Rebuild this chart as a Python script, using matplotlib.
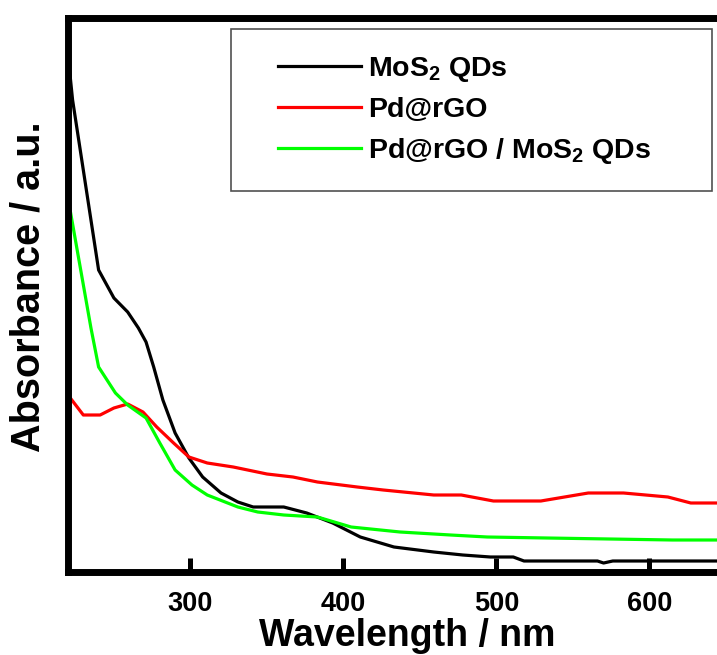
# -*- coding: utf-8 -*-
"""
UV-vis absorbance spectra: MoS2 QDs, Pd@rGO and Pd@rGO / MoS2 QDs
"""
import matplotlib
matplotlib.use("Agg")
import matplotlib.pyplot as plt
from matplotlib.patches import Rectangle

plt.rcParams['font.family'] = ['Liberation Sans', 'DejaVu Sans']
plt.rcParams['font.weight'] = 'bold'
plt.rcParams['mathtext.fontset'] = 'custom'
plt.rcParams['mathtext.rm'] = 'Liberation Sans:bold'
plt.rcParams['mathtext.bf'] = 'Liberation Sans:bold'
plt.rcParams['mathtext.it'] = 'Liberation Sans:bold'

# MoS2 QDs (black)
wl_mos2 = [221, 223, 240, 250, 259, 266, 271, 276, 282, 290, 299, 308, 320, 331,
           341, 361, 376, 393, 411, 433, 459, 478, 496, 511, 518, 566, 570, 576, 650]
abs_mos2 = [502, 472, 302, 274, 260, 244, 230, 205, 172, 139, 114, 95, 79, 70,
            65, 65, 59, 49, 35, 25, 20, 17, 15, 15, 11, 11, 9, 11, 11]

# Pd@rGO (red)
wl_pd = [220, 221, 230, 241, 250, 259, 269, 278, 289, 299, 311, 328, 350, 367,
         383, 409, 426, 459, 477, 498, 529, 560, 583, 612, 627, 650]
abs_pd = [182, 175, 157, 157, 164, 168, 160, 145, 129, 115, 109, 105, 98, 95,
          90, 85, 82, 77, 77, 71, 71, 79, 79, 75, 69, 69]

# Pd@rGO / MoS2 QDs (green)
wl_hyb = [220, 235, 240, 251, 259, 271, 280, 290, 301, 311, 331, 344, 361, 383,
          405, 437, 470, 494, 533, 615, 650]
abs_hyb = [374, 244, 205, 179, 167, 154, 129, 102, 87, 77, 65, 60, 57, 55,
           45, 40, 37, 35, 34, 32, 32]

labels = ['MoS$_2$ QDs', 'Pd@rGO', 'Pd@rGO / MoS$_2$ QDs']
xticks = [300, 400, 500, 600]

W, H = 717, 655
fig = plt.figure(figsize=(W / 100, H / 100), dpi=100)
# axes box in pixels: left 68, top 18, bottom 572; right edge runs off the figure
ax = fig.add_axes([68 / W, 1 - 572 / H, 658 / W, (572 - 18) / H])

l1, = ax.plot(wl_mos2, abs_mos2, color='black', lw=2.3)
l2, = ax.plot(wl_pd, abs_pd, color='#ff0000', lw=2.3)
l3, = ax.plot(wl_hyb, abs_hyb, color='#00ff00', lw=2.3)

ax.set_xlim(220, 650)
ax.set_ylim(0, 554)
ax.set_xticks(xticks)
ax.set_yticks([])
ax.tick_params(axis='x', direction='in', length=10, width=3.6, pad=14,
               labelsize=19.5)
for lab in ax.get_xticklabels():
    lab.set_fontweight('bold')
for side in ['left', 'top', 'bottom', 'right']:
    ax.spines[side].set_linewidth(5)
    ax.spines[side].set_clip_on(False)

fig.text(407 / W, 1 - 646 / H, 'Wavelength / nm', ha='center', va='baseline',
         fontsize=27, fontweight='bold')
fig.text(29 / W, 1 - 287 / H, 'Absorbance / a.u.', ha='center', va='center',
         rotation=90, fontsize=28.5, fontweight='bold')

# legend frame
fig.add_artist(Rectangle((231 / W, 1 - 191 / H), (712 - 231) / W, (191 - 29) / H,
                         transform=fig.transFigure, fill=False,
                         edgecolor='#505050', lw=1.2))
leg = ax.legend([l1, l2, l3], labels, loc='upper left',
                bbox_to_anchor=(264 / W, 1 - 41 / H), bbox_transform=fig.transFigure,
                frameon=False, borderpad=0, handlelength=2.9, handletextpad=0.25,
                labelspacing=0.45, prop={'size': 20.5, 'weight': 'bold'})

fig.savefig('out.png', dpi=100)
